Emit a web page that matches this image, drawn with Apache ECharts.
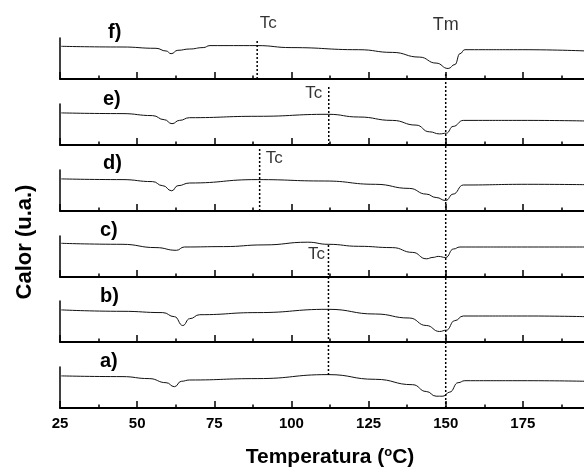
<!DOCTYPE html>
<html><head><meta charset="utf-8">
<script src="https://cdn.jsdelivr.net/npm/echarts@6/dist/echarts.min.js"></script>
<style>html,body{margin:0;padding:0;background:#fff}#c{width:584px;height:468px}</style>
</head><body><div id="c"></div>
<script>
// Temperature (°C) vs heat flow (arbitrary units, height above each panel's baseline)
const curveF = [[25.4,32.7],[45.1,32.0],[56.1,30.7],[59.4,28.0],[61.0,25.3],[63.2,28.7],[67.0,30.0],[71.4,31.4],[73.6,33.4],[88.9,33.4],[99.9,31.4],[121.8,29.3],[132.7,26.6],[141.5,21.9],[146.9,15.9],[150.8,10.5],[153.0,14.5],[154.6,25.3],[156.2,29.3],[175,29.3],[196,28.0]];
const curveE = [[25.4,32.1],[45.1,31.4],[55.0,29.4],[58.8,25.3],[61.3,21.3],[63.7,24.6],[67.0,27.3],[88.9,28.7],[111.9,30.7],[121.8,28.0],[132.7,24.6],[140.4,19.9],[144.7,13.2],[148.0,11.1],[150.2,11.8],[152.4,18.6],[155.7,24.6],[176.5,24.6],[196,24.0]];
const curveD = [[25.4,32.1],[45.1,31.4],[55.0,29.4],[58.3,25.3],[61.2,20.2],[63.2,25.3],[67.0,28.0],[88.9,31.4],[110.8,30.0],[127.2,26.7],[138.2,22.6],[143.7,16.9],[146.9,13.5],[150.0,10.5],[152.4,16.9],[155.7,26.0],[176.5,26.7],[196,26.3]];
const curveC = [[25.4,33.7],[45.1,32.7],[56.1,29.4],[62.7,26.7],[65.3,30.0],[78.0,30.4],[91.1,32.1],[105.3,34.8],[111.9,32.7],[121.8,30.7],[132.7,29.4],[139.3,24.6],[143.7,18.2],[145.9,19.6],[147.6,20.6],[150.0,19.5],[152.5,28.0],[154.6,30.0],[176.5,30.0],[196,30.0]];
const curveB = [[25.4,32.1],[45.1,30.7],[58.3,29.4],[62.1,25.3],[64.8,16.5],[67.0,23.3],[70.3,27.3],[88.9,29.4],[111.9,32.7],[127.2,28.0],[138.2,24.0],[143.7,16.5],[148.0,10.5],[150.2,11.8],[152.9,21.3],[155.7,26.0],[176.5,26.0],[196,25.3]];
const curveA = [[25.4,32.1],[45.1,31.4],[53.9,29.4],[59.4,25.3],[62.1,21.3],[64.3,26.7],[67.0,28.0],[88.9,29.4],[111.9,33.4],[127.2,28.7],[139.3,23.3],[143.7,16.5],[146.9,11.8],[149.1,11.8],[151.3,15.9],[154.0,25.3],[156.2,27.3],[176.5,27.3],[196,26.7]];
const panelLabels = ['f)','e)','d)','c)','b)','a)'];
const tmTemp = 150;
const tcTemps = [88.9, 112.1, 89.7, 112.0]; // f, e, d, b/a
const xTitle = '{m|Temperatura (}{s|o}{m|C)}';
const yTitle = 'Calor (u.a.)';

const curves = [curveF, curveE, curveD, curveC, curveB, curveA];
const panelTops = [38,104,170,236,301,367];
const panelH = 41;
const labelPos = [[108,32],[103,99],[103,163],[100,230],[100,296],[100,361]];
const FONT = 'Liberation Sans, Arial, Helvetica, sans-serif';

const grids = [], xAxes = [], yAxes = [], series = [];
panelTops.forEach((top, i) => {
  const last = i === panelTops.length - 1;
  grids.push({left:60, width:540, top:top, height:panelH, outerBoundsMode:'none'});
  xAxes.push({type:'value', gridIndex:i, min:25, max:200, interval:25,
    axisLine:{show:true, onZero:false, lineStyle:{color:'#000', width:2}},
    axisTick:{show:true, inside:true, length:7, lineStyle:{color:'#000', width:1.5}},
    minorTick:{show:true, splitNumber:2, length:3.5, lineStyle:{color:'#000', width:1.5}},
    axisLabel:{show:last, color:'#000', fontFamily:FONT, fontWeight:'bold', fontSize:15, margin:8},
    splitLine:{show:false}, minorSplitLine:{show:false}});
  yAxes.push({type:'value', gridIndex:i, min:0, max:panelH,
    axisLine:{show:true, onZero:false, lineStyle:{color:'#000', width:1.5}},
    axisTick:{show:false}, axisLabel:{show:false}, splitLine:{show:false}});
  series.push({type:'line', xAxisIndex:i, yAxisIndex:i, data:curves[i], showSymbol:false,
    smooth:0.5, smoothMonotone:'x', lineStyle:{color:'#111', width:1}, silent:true, animation:false});
});

// overlay grid spanning all panels for the dotted reference lines and titles
const OV = 6, ovTop = 38, ovH = 370;
grids.push({left:60, width:540, top:ovTop, height:ovH, outerBoundsMode:'none'});
xAxes.push({type:'value', gridIndex:OV, min:25, max:200, axisLine:{show:false}, axisTick:{show:false},
  axisLabel:{show:false}, splitLine:{show:false},
  name:xTitle, nameLocation:'middle', nameGap:36,
  nameTextStyle:{color:'#000', fontFamily:FONT, fontWeight:'bold', fontSize:21,
    rich:{
      m:{fontFamily:FONT, fontWeight:'bold', fontSize:21, color:'#000', lineHeight:24, verticalAlign:'bottom'},
      s:{fontFamily:FONT, fontWeight:'bold', fontSize:13, color:'#000', lineHeight:24, verticalAlign:'bottom', padding:[0,0,9,0]}
    }}});
yAxes.push({type:'value', gridIndex:OV, min:0, max:ovH, axisLine:{show:false}, axisTick:{show:false},
  axisLabel:{show:false}, splitLine:{show:false},
  name:yTitle, nameLocation:'middle', nameGap:24,
  nameTextStyle:{color:'#000', fontFamily:FONT, fontWeight:'bold', fontSize:22, padding:[0,38,0,0]}});

// vertical extents (overlay units = pixels above bottom axis)
const vY = y => 408 - y;
const vLines = [
  {t:tmTemp, y0:72, y1:408, text:'Tm', off:[0,-46.5], fs:18},
  {t:tcTemps[0], y0:40, y1:79, text:'Tc', off:[11,-16.5], fs:17},
  {t:tcTemps[1], y0:85, y1:145, text:'Tc', off:[-15,8.5], fs:17},
  {t:tcTemps[2], y0:148, y1:211, text:'Tc', off:[14.5,10.5], fs:17},
  {t:tcTemps[3], y0:243, y1:375, text:'Tc', off:[-12,11.5], fs:17}
];
vLines.forEach(l => {
  series.push({type:'line', xAxisIndex:OV, yAxisIndex:OV, showSymbol:false, silent:true, animation:false,
    data:[[l.t, vY(l.y1)], [l.t, vY(l.y0)]],
    lineStyle:{color:'#000', width:1.5, type:[2,2]}});
});
series.push({type:'scatter', xAxisIndex:OV, yAxisIndex:OV, symbolSize:0, silent:true, animation:false,
  itemStyle:{color:'rgba(0,0,0,0)'},
  data: vLines.map(l => ({value:[l.t, vY(l.y0)],
    label:{show:true, formatter:l.text, position:'inside', offset:l.off, color:'#000',
      fontFamily:FONT, fontSize:l.fs, align:'center', verticalAlign:'middle'}}))});

const graphic = panelLabels.map((t, i) => ({type:'text', x:labelPos[i][0], y:labelPos[i][1],
  style:{text:t, fill:'#000', font:'bold 20px ' + FONT, verticalAlign:'middle', align:'left'}}));

const chart = echarts.init(document.getElementById('c'), null, {renderer:'canvas'});
chart.setOption({animation:false, backgroundColor:'#fff', grid:grids, xAxis:xAxes, yAxis:yAxes, series:series, graphic:graphic});
</script></body></html>
